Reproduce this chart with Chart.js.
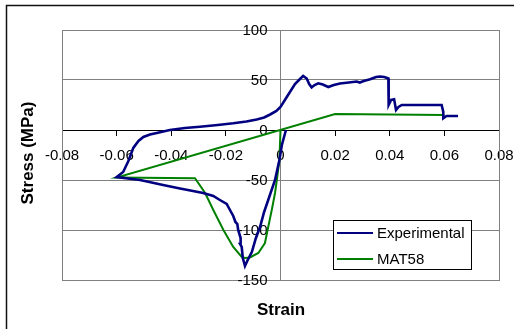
<!DOCTYPE html>
<html>
<head>
<meta charset="utf-8">
<script src="https://cdn.jsdelivr.net/npm/chart.js@4/dist/chart.umd.min.js"></script>
<style>
  html, body { margin: 0; padding: 0; background: #fff; }
  canvas { display: block; }
</style>
</head>
<body>
<canvas id="chart" width="514" height="329"></canvas>
<script>
// Experimental curve (strain, stress in MPa) in drawing order
const expStrain = [0.002, 0.0005, -0.0004, -0.002, -0.0045, -0.006, -0.0075, -0.009, -0.0105, -0.012, -0.013,
  -0.0138, -0.0142, -0.0148, -0.0146, -0.0155, -0.0158, -0.0165, -0.0173, -0.0185, -0.0197, -0.0222, -0.0246,
  -0.0283, -0.033, -0.0368, -0.043, -0.0514, -0.06, -0.0576, -0.0557, -0.0539, -0.052, -0.0502, -0.0478, -0.0453,
  -0.0405, -0.035, -0.0295, -0.023, -0.0173, -0.0125, -0.0087, -0.006, -0.0038, -0.0015, 0, 0.0023, 0.0053,
  0.0075, 0.0083, 0.0096, 0.0105, 0.0114, 0.0125, 0.0138, 0.0155, 0.0175, 0.0195, 0.0218, 0.025, 0.0279, 0.029,
  0.0305, 0.0328, 0.035, 0.0364, 0.038, 0.0395, 0.0396, 0.0405, 0.0416, 0.0423, 0.0432, 0.0444, 0.059, 0.0596,
  0.0596, 0.0608, 0.065];
const expStress = [0, -15, -30, -50, -70, -82, -97, -108, -122, -130, -136,
  -128, -117, -114, -108, -100, -94, -92, -86, -80, -74, -70, -66,
  -63, -60.5, -58.5, -55, -50, -47, -42, -31, -18, -11, -7, -4.5, -3,
  0, 2, 3.3, 5, 6.7, 8.5, 10.5, 12.5, 15.5, 19, 23, 33, 46,
  52, 54, 51.5, 46, 42.7, 45, 46.7, 45.5, 43, 45, 46.5, 47.5, 48.5, 47.5,
  49, 50.7, 53, 53.5, 53, 51.5, 25, 30, 30.7, 20, 23, 25, 25, 18,
  11.7, 14, 14];

// MAT58 model curve
const matStrain = [0, -0.0004, -0.0012, -0.002, -0.0032, -0.0045, -0.0057, -0.0081, -0.0112, -0.013, -0.0142,
  -0.0173, -0.0209, -0.0246, -0.0276, -0.0313, -0.06, 0.02, 0.06];
const matStress = [0, -30, -47, -63, -80, -97, -113, -123, -127.5, -128, -127,
  -117, -100, -80, -63, -48.3, -47.5, 16, 15];

const seriesNames = ['Experimental', 'MAT58'];
const seriesColors = ['#000080', '#008000'];

const xTicks = [-0.08, -0.06, -0.04, -0.02, 0, 0.02, 0.04, 0.06, 0.08];
const yTicks = [-150, -100, -50, 0, 50, 100];

const xTitle = 'Strain';
const yTitle = 'Stress (MPa)';

const FONT = '"Liberation Sans", Arial, sans-serif';
Chart.defaults.font.family = FONT;
Chart.defaults.color = '#000';

const toPoints = (xs, ys) => xs.map((x, i) => ({ x: x, y: ys[i] }));

// the axes sit inside the plot, so they must not eat into its size
const noAxisPadding = axis => {
  axis.paddingLeft = 0;
  axis.paddingRight = 0;
  axis.paddingTop = 0;
  axis.paddingBottom = 0;
};

// Frame, plot border, axis titles, y tick labels and legend box
const decorations = {
  id: 'decorations',
  beforeDatasetsDraw(chart) {
    const { ctx, chartArea: a } = chart;
    ctx.save();
    ctx.strokeStyle = '#808080';
    ctx.lineWidth = 1;
    ctx.strokeRect(Math.round(a.left) + 0.5, Math.round(a.top) + 0.5,
      Math.round(a.right - a.left), Math.round(a.bottom - a.top));

    // y labels sit a little left of the x = 0 axis (Chart.js ignores padding there)
    const xs = chart.scales.x, ys = chart.scales.y;
    const x0 = xs.getPixelForValue(0);
    ctx.fillStyle = '#000';
    ctx.font = '15px ' + FONT;
    ctx.textAlign = 'right';
    ctx.textBaseline = 'middle';
    ys.ticks.forEach(t => {
      ctx.fillText(String(t.value), x0 - 13, ys.getPixelForValue(t.value) + 1);
    });
    ctx.restore();
  },
  afterDraw(chart) {
    const { ctx } = chart;
    ctx.save();

    // outer chart frame (only left and top edges are inside the picture)
    ctx.strokeStyle = '#111';
    ctx.lineWidth = 1.5;
    ctx.beginPath();
    ctx.moveTo(6.5, 329);
    ctx.lineTo(6.5, 5.5);
    ctx.lineTo(514, 5.5);
    ctx.stroke();

    // axis titles
    ctx.fillStyle = '#000';
    ctx.font = 'bold 17px ' + FONT;
    ctx.textAlign = 'center';
    ctx.textBaseline = 'middle';
    ctx.fillText(xTitle, 281, 310);
    ctx.translate(28.5, 153);
    ctx.rotate(-Math.PI / 2);
    ctx.fillText(yTitle, 0, 0);
    ctx.setTransform(1, 0, 0, 1, 0, 0);

    // legend
    ctx.fillStyle = '#fff';
    ctx.fillRect(333.5, 220.5, 138, 49);
    ctx.strokeStyle = '#000';
    ctx.lineWidth = 1;
    ctx.strokeRect(333.5, 220.5, 138, 49);
    ctx.font = '15px ' + FONT;
    ctx.textAlign = 'left';
    chart.data.datasets.forEach((ds, i) => {
      const y = 233 + i * 26;
      ctx.strokeStyle = ds.borderColor;
      ctx.lineWidth = 2;
      ctx.beginPath();
      ctx.moveTo(337, y);
      ctx.lineTo(373, y);
      ctx.stroke();
      ctx.fillStyle = '#000';
      ctx.fillText(ds.label, 377, y + 0.5);
    });
    ctx.restore();
  }
};

new Chart(document.getElementById('chart'), {
  type: 'scatter',
  data: {
    datasets: [
      {
        label: seriesNames[0],
        data: toPoints(expStrain, expStress),
        showLine: true,
        borderColor: seriesColors[0],
        borderWidth: 2.6,
        pointRadius: 0,
        tension: 0
      },
      {
        label: seriesNames[1],
        data: toPoints(matStrain, matStress),
        showLine: true,
        borderColor: seriesColors[1],
        borderWidth: 2,
        pointRadius: 0,
        tension: 0
      }
    ]
  },
  options: {
    responsive: false,
    animation: false,
    layout: { padding: { left: 62, right: 15, top: 30, bottom: 49 } },
    plugins: {
      legend: { display: false },
      tooltip: { enabled: false }
    },
    scales: {
      x: {
        type: 'linear',
        min: -0.08,
        max: 0.08,
        position: { y: 0 },
        afterBuildTicks: axis => { axis.ticks = xTicks.map(v => ({ value: v })); },
        afterFit: noAxisPadding,
        ticks: {
          font: { size: 15 },
          padding: 12,
          autoSkip: false,
          maxRotation: 0,
          callback: v => String(v)
        },
        grid: { drawOnChartArea: false, tickLength: 5, color: '#000' },
        border: { color: '#000', width: 1 }
      },
      y: {
        type: 'linear',
        min: -150,
        max: 100,
        position: { x: 0 },
        afterBuildTicks: axis => { axis.ticks = yTicks.map(v => ({ value: v })); },
        afterFit: noAxisPadding,
        ticks: { display: false, autoSkip: false },
        grid: {
          color: ctx => (ctx.tick && ctx.tick.value === 0 ? '#000' : '#808080'),
          tickColor: '#808080',
          tickLength: 4
        },
        border: { color: '#808080', width: 1 }
      }
    }
  },
  plugins: [decorations]
});
</script>
</body>
</html>
